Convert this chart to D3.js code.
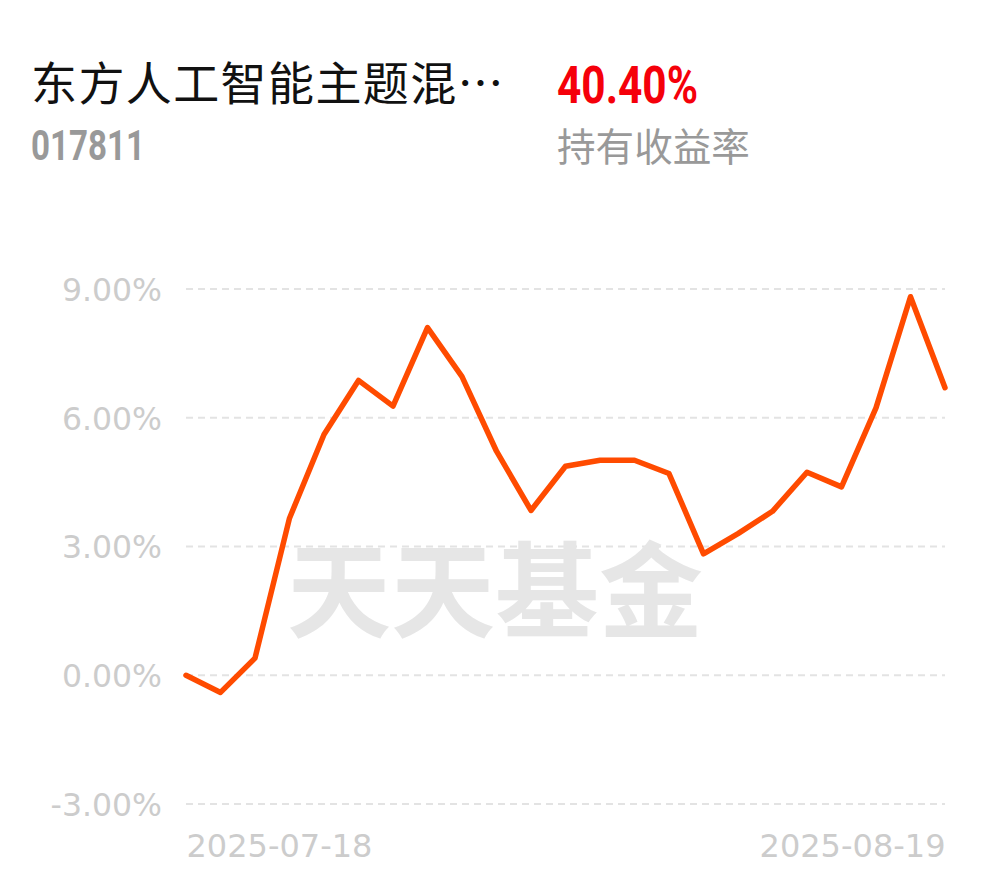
<!DOCTYPE html>
<html>
<head>
<meta charset="utf-8">
<script src="https://cdn.jsdelivr.net/npm/d3@7"></script>
<style>
  html, body { margin: 0; padding: 0; background: #fff; }
  svg { display: block; }
</style>
</head>
<body>
<svg id="chart" width="990" height="878"></svg>
<script>
// ---- data ----
const fundName = "东方人工智能主题混…";
const fundCode = "017811";
const holdReturn = "40.40%";
const holdReturnLabel = "持有收益率";
const watermark = "天天基金";

const dates = [
  "2025-07-18","2025-07-21","2025-07-22","2025-07-23","2025-07-24","2025-07-25",
  "2025-07-28","2025-07-29","2025-07-30","2025-07-31","2025-08-01",
  "2025-08-04","2025-08-05","2025-08-06","2025-08-07","2025-08-08",
  "2025-08-11","2025-08-12","2025-08-13","2025-08-14","2025-08-15",
  "2025-08-18","2025-08-19"
];
const returns = [
  0.00, -0.40, 0.40, 3.66, 5.61, 6.87, 6.27, 8.10, 6.96, 5.22, 3.84,
  4.87, 5.01, 5.01, 4.70, 2.83, 3.30, 3.82, 4.73, 4.39, 6.23, 8.82, 6.70
];
const yTicks = [-3, 0, 3, 6, 9];
const xTickLabels = ["2025-07-18", "2025-08-19"];

// ---- drawing ----
(function () {
const svg = d3.select("#chart");
const pLeft = 186, pRight = 945, pTop = 289, pBottom = 804;

const x = d3.scalePoint().domain(dates).range([pLeft, pRight]);
const y = d3.scaleLinear().domain([-3, 9]).range([pBottom, pTop]);

// header
svg.append("text")
  .attr("x", 31).attr("y", 100)
  .attr("font-family", "'Noto Sans CJK SC', sans-serif")
  .attr("font-size", 46)
  .attr("letter-spacing", 1.4)
  .attr("fill", "#111")
  .text(fundName);

svg.append("text")
  .attr("x", 31).attr("y", 160)
  .attr("font-family", "Roboto, sans-serif")
  .attr("font-weight", 700)
  .attr("font-size", 42)
  .attr("textLength", 114)
  .attr("lengthAdjust", "spacingAndGlyphs")
  .attr("fill", "#999")
  .text(fundCode);

svg.append("text")
  .attr("x", 557).attr("y", 103)
  .attr("font-family", "Roboto, sans-serif")
  .attr("font-weight", 700)
  .attr("font-size", 52)
  .attr("textLength", 141)
  .attr("lengthAdjust", "spacingAndGlyphs")
  .attr("fill", "#f5000a")
  .text(holdReturn);

svg.append("text")
  .attr("x", 557).attr("y", 161)
  .attr("font-family", "'Noto Sans CJK SC', sans-serif")
  .attr("font-size", 38.6)
  .attr("fill", "#999")
  .text(holdReturnLabel);

// gridlines
const grid = svg.append("g");
grid.selectAll("line").data(yTicks).join("line")
  .attr("x1", pLeft).attr("x2", pRight)
  .attr("y1", d => y(d)).attr("y2", d => y(d))
  .attr("stroke", "#e3e3e3")
  .attr("stroke-width", 2)
  .attr("stroke-dasharray", "7 5");

// watermark
svg.append("text")
  .attr("x", 495).attr("y", 630)
  .attr("text-anchor", "middle")
  .attr("font-family", "'Noto Sans CJK SC', sans-serif")
  .attr("font-weight", 700)
  .attr("font-size", 104)
  .attr("fill", "#e6e6e6")
  .text(watermark);

// y axis labels
const yAxis = d3.axisLeft(y).tickValues(yTicks)
  .tickFormat(d => d.toFixed(2) + "%").tickSize(0).tickPadding(0);
const yg = svg.append("g").attr("transform", "translate(162,0)").call(yAxis);
yg.select(".domain").remove();
yg.selectAll("text")
  .attr("font-family", "'DejaVu Sans', sans-serif")
  .attr("font-size", 31.5)
  .attr("fill", "#cccccc")
  .attr("dy", "0.36em");

// x labels
const xAxis = d3.axisBottom(x).tickValues(xTickLabels).tickSize(0).tickPadding(0);
const xg = svg.append("g").attr("transform", "translate(0,857)").call(xAxis);
xg.select(".domain").remove();
xg.selectAll("text")
  .attr("font-family", "'DejaVu Sans', sans-serif")
  .attr("font-size", 32)
  .attr("fill", "#cccccc")
  .attr("dy", 0)
  .attr("text-anchor", (d, i) => i === 0 ? "start" : "end");

// line
const line = d3.line()
  .x((d, i) => x(dates[i]))
  .y(d => y(d));
svg.append("path")
  .datum(returns)
  .attr("d", line)
  .attr("fill", "none")
  .attr("stroke", "#ff4b00")
  .attr("stroke-width", 5.5)
  .attr("stroke-linejoin", "round")
  .attr("stroke-linecap", "round");
})();
</script>
</body>
</html>
